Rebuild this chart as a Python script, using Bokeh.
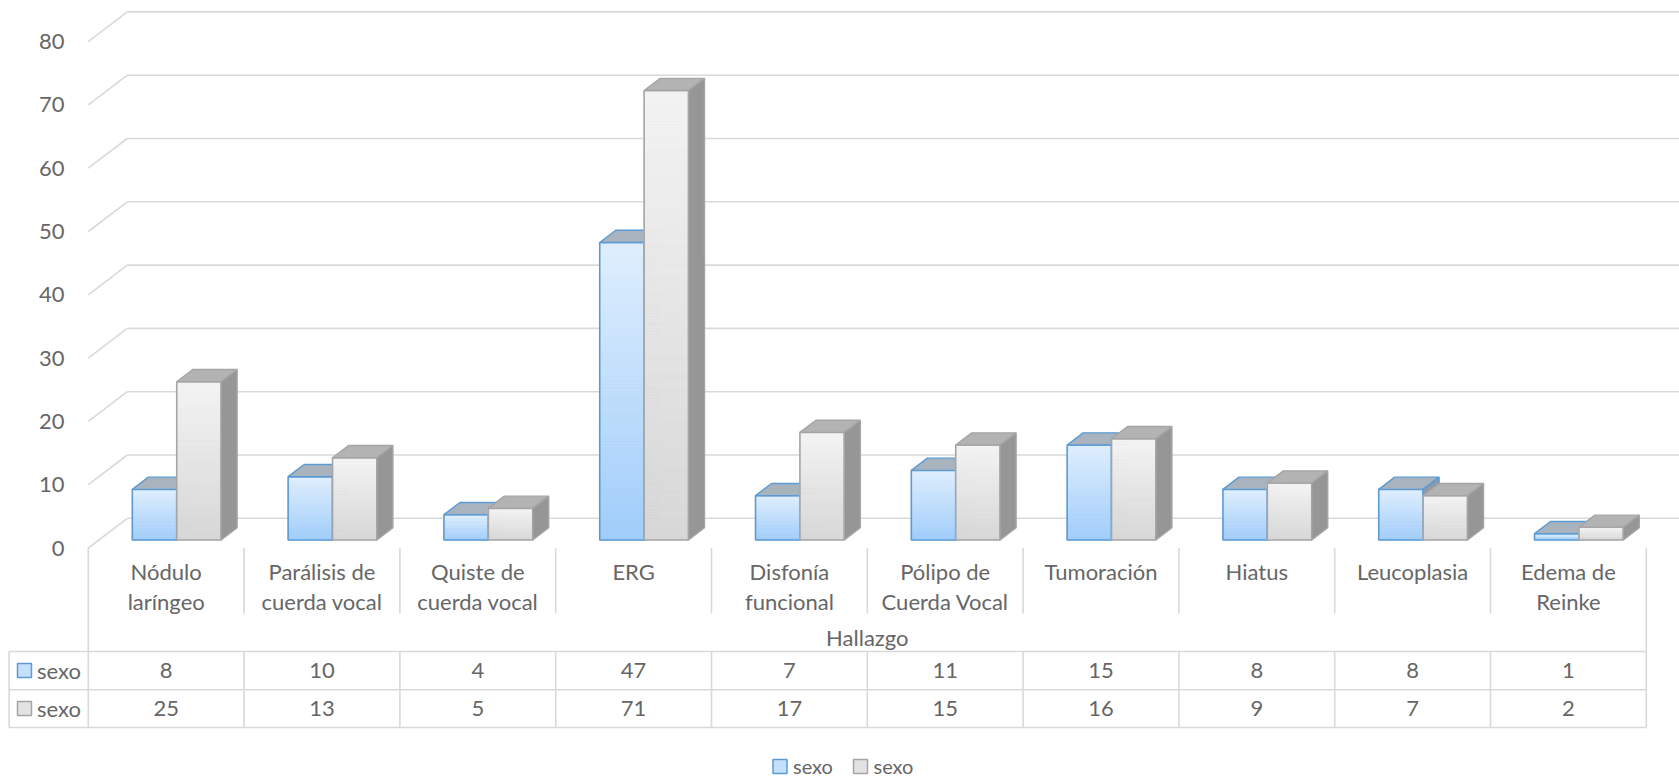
from bokeh.plotting import figure
from bokeh.models import Range1d
from bokeh.embed import file_html
from bokeh.resources import INLINE
from bokeh.core.properties import value

# ---------------- data ----------------
categories = ["Nódulo laríngeo", "Parálisis de cuerda vocal", "Quiste de cuerda vocal", "ERG",
              "Disfonía funcional", "Pólipo de Cuerda Vocal", "Tumoración", "Hiatus",
              "Leucoplasia", "Edema de Reinke"]
category_lines = [["Nódulo", "laríngeo"], ["Parálisis de", "cuerda vocal"], ["Quiste de", "cuerda vocal"],
                  ["ERG"], ["Disfonía", "funcional"], ["Pólipo de", "Cuerda Vocal"], ["Tumoración"],
                  ["Hiatus"], ["Leucoplasia"], ["Edema de", "Reinke"]]
axis_title = "Hallazgo"
series_names = ["sexo", "sexo"]
series_1 = [8, 10, 4, 47, 7, 11, 15, 8, 8, 1]
series_2 = [25, 13, 5, 71, 17, 15, 16, 9, 7, 2]
y_ticks = [0, 10, 20, 30, 40, 50, 60, 70, 80]

# ---------------- layout constants ----------------
W, H = 1679, 779
PXC = 155.8      # pixels per category
PXV = 6.33       # pixels per value unit
X0 = 87.8        # pixel x of category axis start
Y0 = 547.5       # pixel y of value 0 (front plane)
FONT = value("Lato")
FS = "22px"
TXT = "#666666"
GRID = "#D9D9D9"


def X(px):
    return (px - X0) / PXC


def Y(py):
    return (Y0 - py) / PXV


DXF = 39.0 / PXC
DYF = 29.7 / PXV
D_FRONT, D_BACK = 0.27, 0.68
BAR_W = 44.4 / PXC

p = figure(width=W, height=H, x_range=Range1d(X(0), X(W)), y_range=Range1d(Y(H), Y(0)),
           output_backend="svg", toolbar_location=None, min_border=0,
           x_axis_location=None, y_axis_location=None)
p.grid.visible = False
p.outline_line_color = None
p.background_fill_color = "white"
p.border_fill_color = "white"

# ---------------- walls / gridlines ----------------
n = len(y_ticks)
p.segment(x0=[0] * n, y0=y_ticks, x1=[DXF] * n, y1=[t + DYF for t in y_ticks],
          line_color=GRID, line_width=1.6)
p.segment(x0=[DXF] * n, y0=[t + DYF for t in y_ticks], x1=[X(W)] * n, y1=[t + DYF for t in y_ticks],
          line_color=GRID, line_width=1.6)
p.text(x=[X(64)] * n, y=y_ticks, text=[str(t) for t in y_ticks], text_align="right",
       text_baseline="middle", text_font=FONT, text_font_size=FS, text_color=TXT)


# ---------------- bars ----------------
def lerp(c1, c2, t):
    return "#%02x%02x%02x" % tuple(int(round(a + (b - a) * t)) for a, b in zip(c1, c2))


styles = [
    dict(bot=(160, 205, 250), top=(223, 238, 253), edge="#5B9BD5", topf="#A9B3BE", side="#8F9AA6"),
    dict(bot=(215, 215, 215), top=(243, 243, 243), edge="#A5A5A5", topf="#B3B3B3", side="#969696"),
]
ncat = len(categories)
ddx = (D_BACK - D_FRONT) * DXF
ddy = (D_BACK - D_FRONT) * DYF
for s, vals in enumerate([series_1, series_2]):
    st = styles[s]
    sl, sr, sb, stp, sc = [], [], [], [], []
    fl, fr, fb, ft = [], [], [], []
    tx, ty, sx, sy = [], [], [], []
    for i, v in enumerate(vals):
        left = i + 0.5 + D_FRONT * DXF - BAR_W + s * BAR_W
        right = left + BAR_W
        bottom = D_FRONT * DYF
        top = v + bottom
        nstrip = max(2, int(v * PXV / 3))
        for k in range(nstrip):
            b0 = bottom + v * k / nstrip
            b1 = bottom + v * (k + 1) / nstrip
            sl.append(left); sr.append(right); sb.append(b0); stp.append(b1)
            sc.append(lerp(st["bot"], st["top"], (k + 0.5) / nstrip))
        fl.append(left); fr.append(right); fb.append(bottom); ft.append(top)
        tx.append([left, right, right + ddx, left + ddx]); ty.append([top, top, top + ddy, top + ddy])
        sx.append([right, right + ddx, right + ddx, right]); sy.append([bottom, bottom + ddy, top + ddy, top])
    p.quad(left=sl, right=sr, bottom=sb, top=stp, fill_color=sc, line_color=sc, line_width=0.8)
    p.quad(left=fl, right=fr, bottom=fb, top=ft, fill_color=None, line_color=st["edge"], line_width=1.6)
    p.patches(xs=tx, ys=ty, fill_color=st["topf"], line_color=st["edge"], line_width=1.4)
    p.patches(xs=sx, ys=sy, fill_color=st["side"], line_color=st["edge"], line_width=1.4)

# ---------------- data table ----------------
cx = [i + 0.5 for i in range(ncat)]
seps = list(range(1, ncat))
p.segment(x0=seps, y0=[Y(Y0)] * len(seps), x1=seps, y1=[Y(613)] * len(seps), line_color=GRID, line_width=1.6)
p.segment(x0=seps, y0=[Y(651)] * len(seps), x1=seps, y1=[Y(727)] * len(seps), line_color=GRID, line_width=1.6)
p.segment(x0=[0, ncat, X(8.6)], y0=[Y(Y0), Y(Y0), Y(651)], x1=[0, ncat, X(8.6)], y1=[Y(727)] * 3,
          line_color=GRID, line_width=1.6)
p.segment(x0=[X(8.6)] * 3, y0=[Y(651), Y(689.3), Y(727)], x1=[ncat] * 3, y1=[Y(651), Y(689.3), Y(727)],
          line_color=GRID, line_width=1.6)

# category labels
lx, ly, lt = [], [], []
for i, lines in enumerate(category_lines):
    for j, t in enumerate(lines):
        lx.append(i + 0.5); ly.append(Y(570.5 + 30 * j)); lt.append(t)
p.text(x=lx, y=ly, text=lt, text_align="center", text_baseline="middle", text_font=FONT,
       text_font_size=FS, text_color=TXT)
p.text(x=[ncat / 2], y=[Y(637)], text=[axis_title], text_align="center", text_baseline="middle",
       text_font=FONT, text_font_size=FS, text_color=TXT)

row_y = [670, 708]
for s, vals in enumerate([series_1, series_2]):
    p.text(x=cx, y=[Y(row_y[s])] * ncat, text=[str(v) for v in vals], text_align="center",
           text_baseline="middle", text_font=FONT, text_font_size=FS, text_color=TXT)

sw_fill = ["#C5E0FB", "#E3E3E3"]
sw_edge = ["#5B9BD5", "#A5A5A5"]
p.rect(x=[X(24)] * 2, y=[Y(row_y[0]), Y(row_y[1])], width=14, height=14, width_units="screen",
       height_units="screen", fill_color=sw_fill, line_color=sw_edge, line_width=1.5)
p.text(x=[X(36.5)] * 2, y=[Y(row_y[0]), Y(row_y[1])], text=series_names, text_align="left",
       text_baseline="middle", text_font=FONT, text_font_size=FS, text_color=TXT)

# legend
p.rect(x=[X(779.5), X(860)], y=[Y(766)] * 2, width=14, height=14, width_units="screen",
       height_units="screen", fill_color=sw_fill, line_color=sw_edge, line_width=1.5)
p.text(x=[X(792.5), X(873)], y=[Y(765)] * 2, text=series_names, text_align="left",
       text_baseline="middle", text_font=FONT, text_font_size="20px", text_color=TXT)

open("out.html", "w").write(file_html(p, INLINE))
